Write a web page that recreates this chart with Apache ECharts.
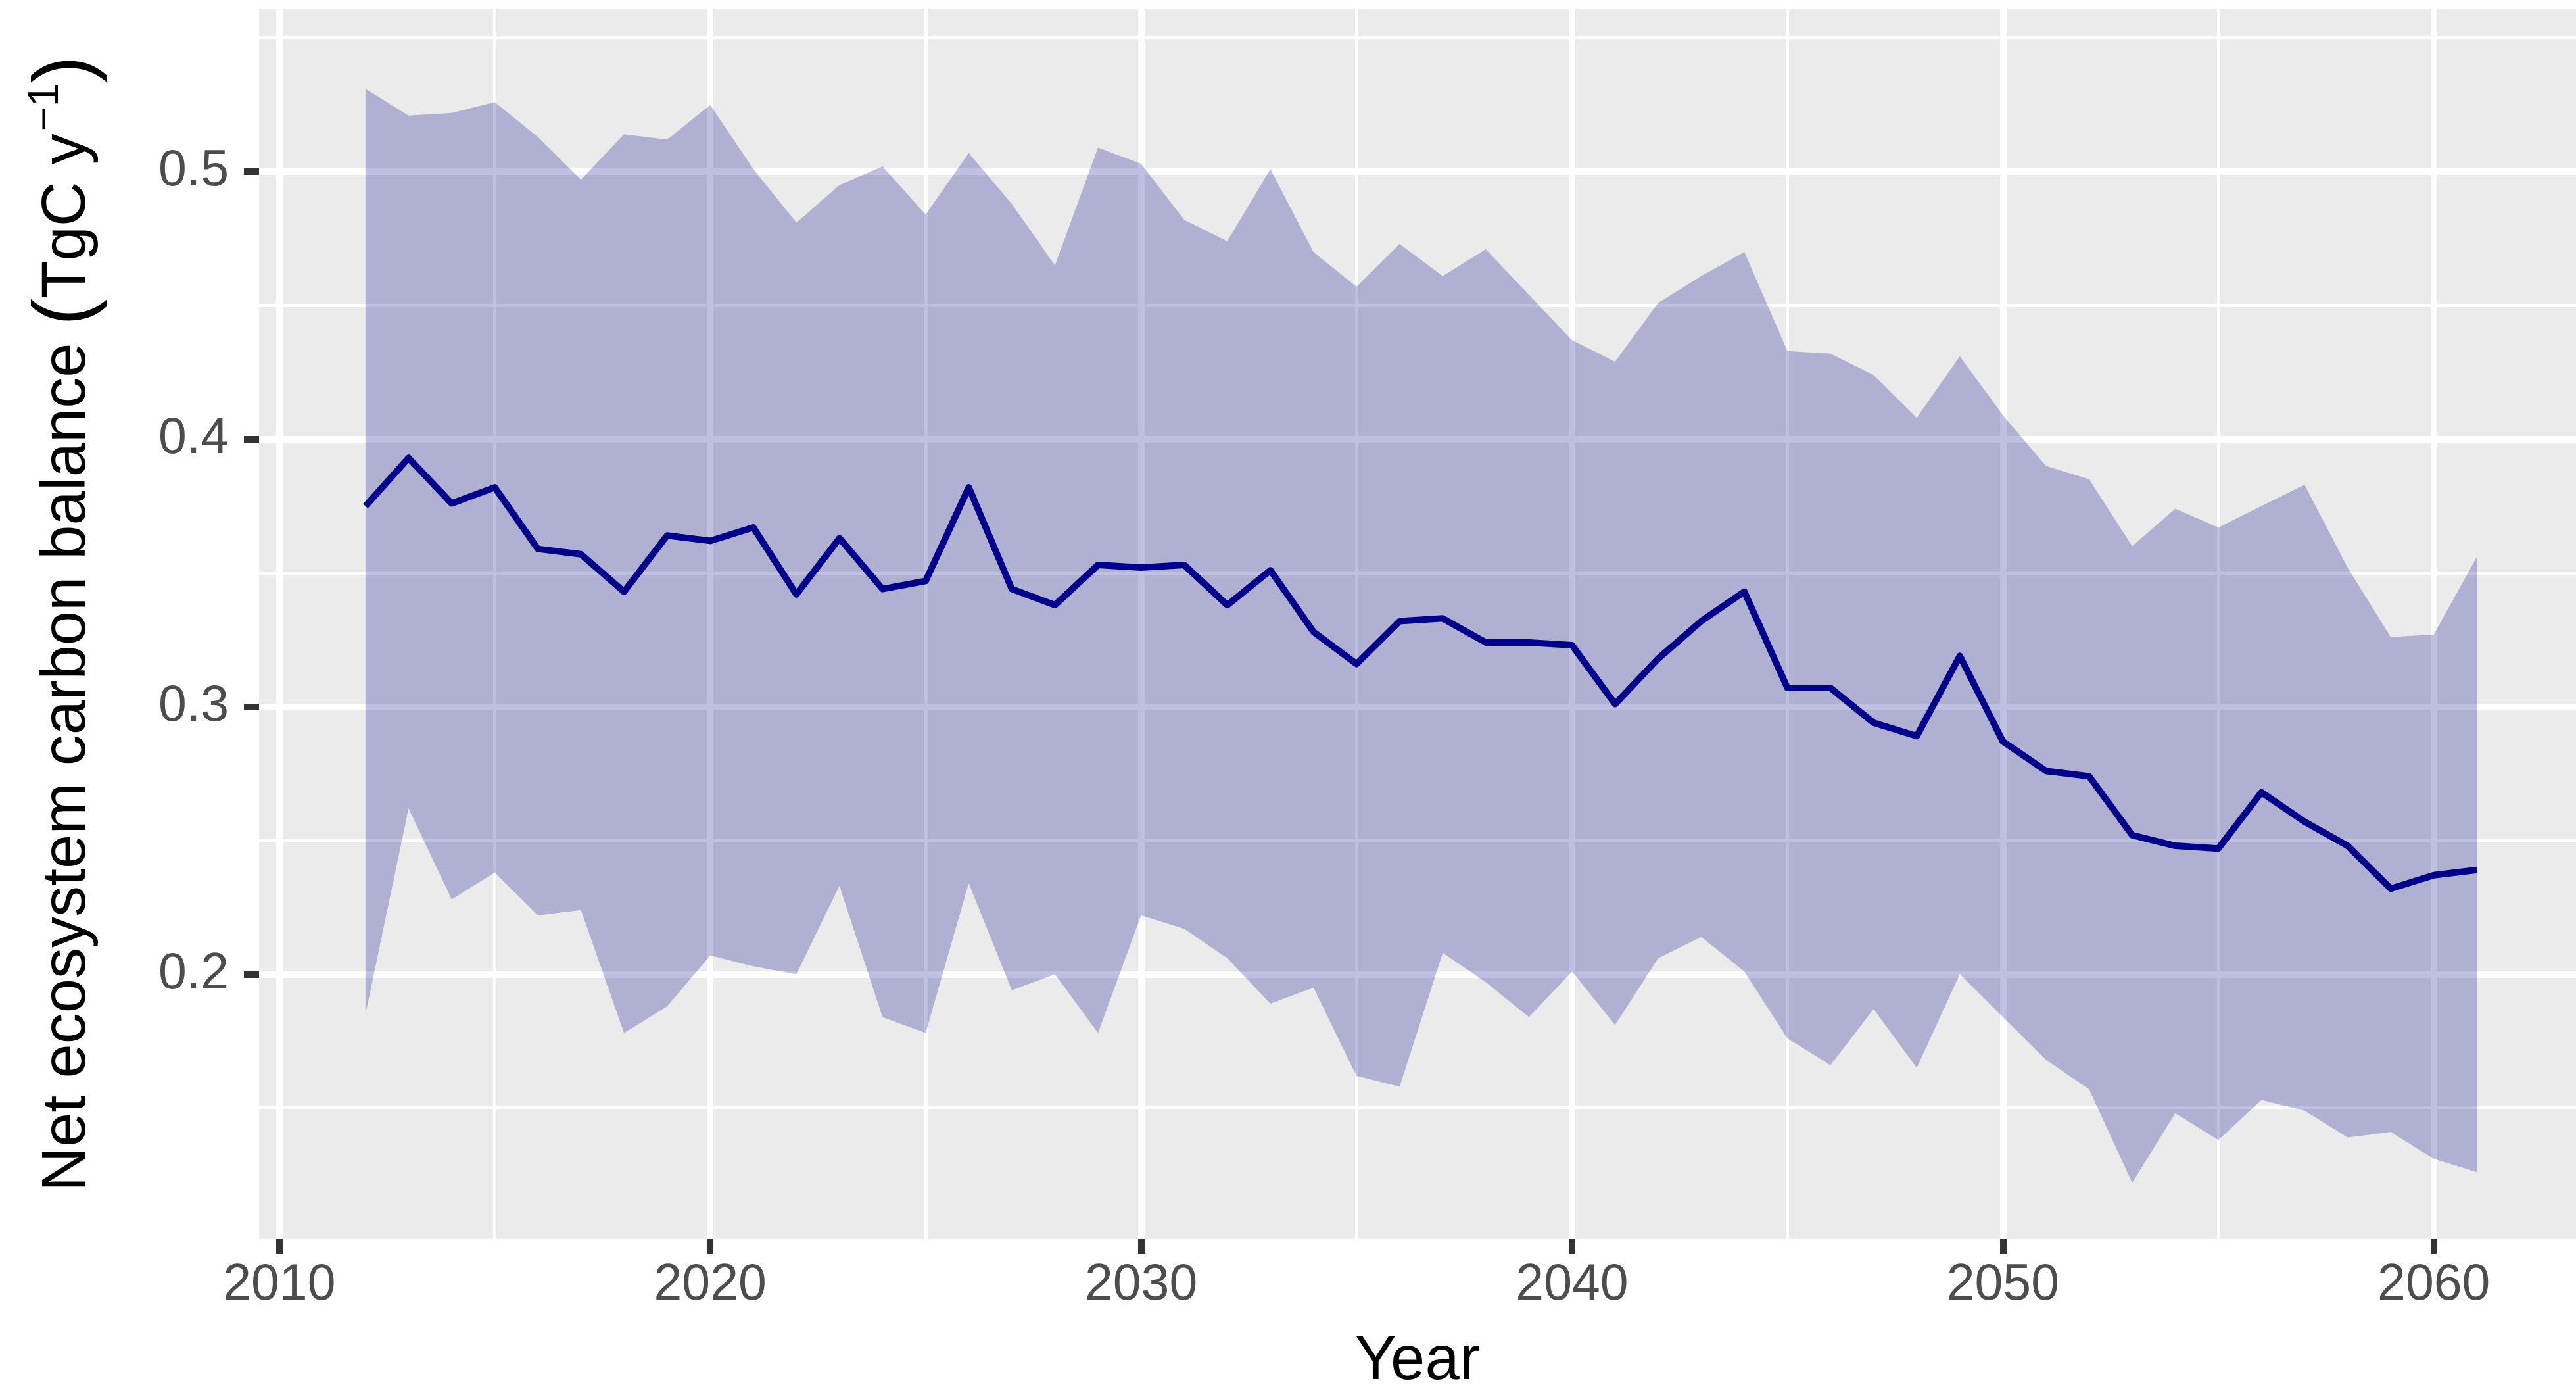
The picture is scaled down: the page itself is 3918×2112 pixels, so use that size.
<!DOCTYPE html>
<html>
<head>
<meta charset="utf-8">
<script src="https://cdn.jsdelivr.net/npm/echarts@6/dist/echarts.min.js"></script>
<style>
html,body{margin:0;padding:0;background:#ffffff;}
#chart{width:3918px;height:2112px;}
</style>
</head>
<body>
<div id="chart"></div>
<script>
const years = [2012,2013,2014,2015,2016,2017,2018,2019,2020,2021,2022,2023,2024,2025,2026,2027,2028,2029,2030,2031,2032,2033,2034,2035,2036,2037,2038,2039,2040,2041,2042,2043,2044,2045,2046,2047,2048,2049,2050,2051,2052,2053,2054,2055,2056,2057,2058,2059,2060,2061];
const meanVals = [0.375,0.393,0.376,0.382,0.359,0.357,0.343,0.364,0.362,0.367,0.342,0.363,0.344,0.347,0.382,0.344,0.338,0.353,0.352,0.353,0.338,0.351,0.328,0.316,0.332,0.333,0.324,0.324,0.323,0.301,0.318,0.332,0.343,0.307,0.307,0.294,0.289,0.319,0.287,0.276,0.274,0.252,0.248,0.247,0.268,0.257,0.248,0.232,0.237,0.239];
const upperVals = [0.531,0.521,0.522,0.526,0.513,0.497,0.514,0.512,0.525,0.501,0.481,0.495,0.502,0.484,0.507,0.488,0.465,0.509,0.503,0.482,0.474,0.501,0.470,0.457,0.473,0.461,0.471,0.454,0.437,0.429,0.451,0.461,0.470,0.433,0.432,0.424,0.408,0.431,0.409,0.390,0.385,0.360,0.374,0.367,0.375,0.383,0.352,0.326,0.327,0.356];
const lowerVals = [0.185,0.262,0.228,0.238,0.222,0.224,0.178,0.188,0.207,0.203,0.200,0.233,0.184,0.178,0.234,0.194,0.200,0.178,0.222,0.217,0.206,0.189,0.195,0.162,0.158,0.208,0.197,0.184,0.201,0.181,0.206,0.214,0.201,0.176,0.166,0.187,0.165,0.200,0.184,0.168,0.157,0.122,0.148,0.138,0.153,0.149,0.139,0.141,0.131,0.126];
const xMajorTicks = [2010,2020,2030,2040,2050,2060];
const xMinorTicks = [2015,2025,2035,2045,2055];
const yMajorTicks = [0.2,0.3,0.4,0.5];
const yMinorTicks = [0.15,0.25,0.35,0.45,0.55];

const X_MIN = 2009.53, X_MAX = 2063.3;
const Y_MIN = 0.101, Y_MAX = 0.561;
const FONT = '"Liberation Sans", Arial, Helvetica, sans-serif';
const TICK_LEN = 23, TICK_W = 10, TICK_COLOR = '#333333';

const chart = echarts.init(document.getElementById('chart'), null, {renderer: 'canvas'});

const bandData = years.map((y, i) => [y, lowerVals[i], upperVals[i]]);
const meanData = years.map((y, i) => [y, meanVals[i]]);

const option = {
  backgroundColor: '#ffffff',
  animation: false,
  grid: {left: 394, right: 0, top: 13, bottom: 228, show: true, backgroundColor: '#EBEBEB', borderWidth: 0,
         containLabel: false, outerBoundsMode: 'none'},
  xAxis: [
    {
      type: 'value', min: X_MIN, max: X_MAX, position: 'bottom',
      name: 'Year', nameLocation: 'middle', nameGap: 140,
      nameTextStyle: {fontFamily: FONT, fontSize: 94, color: '#000000'},
      axisLine: {show: false},
      axisTick: {show: true, length: TICK_LEN, customValues: xMajorTicks, lineStyle: {color: TICK_COLOR, width: TICK_W}},
      axisLabel: {customValues: xMajorTicks, fontFamily: FONT, fontSize: 77, color: '#4D4D4D', margin: 32,
                  formatter: v => String(Math.round(v))},
      splitLine: {show: true, lineStyle: {color: '#ffffff', width: 10}}
    },
    {
      type: 'value', min: X_MIN, max: X_MAX, position: 'bottom',
      axisLine: {show: false},
      axisTick: {show: false, customValues: xMinorTicks},
      axisLabel: {show: false, customValues: xMinorTicks},
      splitLine: {show: true, lineStyle: {color: '#ffffff', width: 5}}
    }
  ],
  yAxis: [
    {
      type: 'value', min: Y_MIN, max: Y_MAX, position: 'left',
      name: '{a|Net ecosystem carbon balance }{p|(}{a|TgC y}{s|−1}{p|)}',
      nameLocation: 'middle', nameGap: 226, nameRotate: 90,
      nameTextStyle: {
        fontFamily: FONT, fontSize: 94, color: '#000000',
        rich: {
          a: {fontFamily: FONT, fontSize: 94, color: '#000000', lineHeight: 130},
          p: {fontFamily: FONT, fontSize: 124, color: '#000000', lineHeight: 130},
          s: {fontFamily: FONT, fontSize: 64, color: '#000000', lineHeight: 64, padding: [0, 0, 66, 4]}
        }
      },
      axisLine: {show: false},
      axisTick: {show: true, length: TICK_LEN, customValues: yMajorTicks, lineStyle: {color: TICK_COLOR, width: TICK_W}},
      axisLabel: {customValues: yMajorTicks, fontFamily: FONT, fontSize: 77, color: '#4D4D4D', margin: 46,
                  formatter: v => v.toFixed(1)},
      splitLine: {show: true, lineStyle: {color: '#ffffff', width: 10}}
    },
    {
      type: 'value', min: Y_MIN, max: Y_MAX, position: 'left',
      axisLine: {show: false},
      axisTick: {show: false, customValues: yMinorTicks},
      axisLabel: {show: false, customValues: yMinorTicks},
      splitLine: {show: true, lineStyle: {color: '#ffffff', width: 5}}
    }
  ],
  series: [
    {
      name: 'band', type: 'custom', xAxisIndex: 0, yAxisIndex: 0,
      data: bandData, encode: {x: 0, y: [1, 2]}, silent: true, z: 2,
      renderItem: function (params, api) {
        if (params.dataIndex !== 0) return null;
        const pts = [];
        for (let i = 0; i < years.length; i++) pts.push(api.coord([years[i], upperVals[i]]));
        for (let i = years.length - 1; i >= 0; i--) pts.push(api.coord([years[i], lowerVals[i]]));
        return {type: 'polygon', shape: {points: pts}, style: {fill: 'rgba(0,0,139,0.25)', stroke: null}};
      }
    },
    {
      name: 'mean', type: 'line', xAxisIndex: 0, yAxisIndex: 0,
      data: meanData, symbol: 'none',
      lineStyle: {color: '#00008B', width: 10, join: 'round'}, z: 5
    }
  ]
};
chart.setOption(option);
</script>
</body>
</html>
